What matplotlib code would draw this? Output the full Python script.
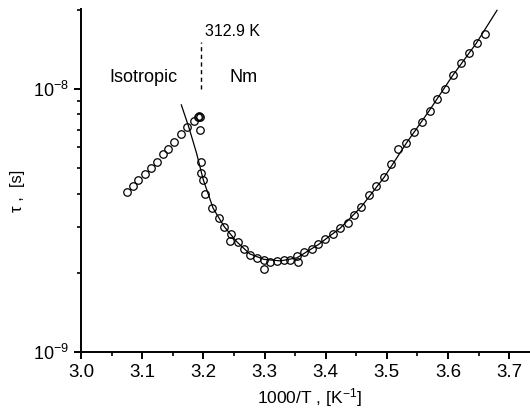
import numpy as np
import matplotlib
matplotlib.use("Agg")
import matplotlib.pyplot as plt
from matplotlib.ticker import LogLocator, MultipleLocator, NullFormatter

plt.rcParams['font.family'] = ['Liberation Sans', 'DejaVu Sans']
plt.rcParams['mathtext.fontset'] = 'custom'
plt.rcParams['mathtext.rm'] = 'Liberation Sans'
plt.rcParams['mathtext.it'] = 'Liberation Sans:italic'
plt.rcParams['axes.unicode_minus'] = False

# isotropic phase points
x_iso = [3.075, 3.085, 3.094, 3.104, 3.114, 3.124, 3.134, 3.143, 3.152, 3.164,
         3.174, 3.184, 3.191, 3.193, 3.194]
tau_iso = [4.07e-9, 4.29e-9, 4.51e-9, 4.75e-9, 5.02e-9, 5.29e-9, 5.65e-9, 5.91e-9,
           6.30e-9, 6.74e-9, 7.17e-9, 7.56e-9, 7.80e-9, 7.90e-9, 7.85e-9]

# nematic phase points
x_nm = [3.195, 3.196, 3.197, 3.199, 3.203, 3.214, 3.225, 3.234, 3.245, 3.244,
        3.256, 3.267, 3.276, 3.288, 3.299, 3.299, 3.309, 3.320, 3.332, 3.342,
        3.354, 3.353, 3.365, 3.377, 3.388, 3.399, 3.412, 3.424, 3.436, 3.447,
        3.458, 3.471, 3.483, 3.496, 3.507, 3.519, 3.532, 3.544, 3.557, 3.570,
        3.582, 3.595, 3.608, 3.621, 3.635, 3.647, 3.661]
tau_nm = [6.98e-9, 5.29e-9, 4.78e-9, 4.51e-9, 3.99e-9, 3.53e-9, 3.24e-9, 3.00e-9,
          2.81e-9, 2.65e-9, 2.62e-9, 2.47e-9, 2.34e-9, 2.28e-9, 2.24e-9, 2.07e-9,
          2.20e-9, 2.22e-9, 2.24e-9, 2.24e-9, 2.19e-9, 2.32e-9, 2.39e-9, 2.46e-9,
          2.57e-9, 2.68e-9, 2.82e-9, 2.96e-9, 3.09e-9, 3.32e-9, 3.57e-9, 3.95e-9,
          4.28e-9, 4.62e-9, 5.17e-9, 5.93e-9, 6.22e-9, 6.88e-9, 7.51e-9, 8.25e-9,
          9.14e-9, 1.00e-8, 1.13e-8, 1.26e-8, 1.37e-8, 1.49e-8, 1.62e-8]

# fitted curve
x_fit = [3.164, 3.176, 3.189, 3.200, 3.216, 3.234, 3.255, 3.276, 3.299, 3.326,
         3.353, 3.388, 3.424, 3.458, 3.496, 3.532, 3.569, 3.607, 3.646, 3.680]
tau_fit = [8.70e-9, 7.19e-9, 5.69e-9, 4.51e-9, 3.52e-9, 3.00e-9, 2.62e-9, 2.36e-9,
           2.25e-9, 2.22e-9, 2.28e-9, 2.56e-9, 2.96e-9, 3.56e-9, 4.63e-9, 6.23e-9,
           8.25e-9, 1.12e-8, 1.49e-8, 1.99e-8]

x_tr = 1000 / 312.9

fig = plt.figure(figsize=(5.3, 4.17), dpi=100)
ax = fig.add_axes([0.1528, 0.1559, 0.8472, 0.8225])

ax.plot(x_fit, tau_fit, color='black', lw=0.9)
ax.plot(x_iso, tau_iso, 'o', mfc='none', mec='black', ms=5.4, mew=0.9)
ax.plot(x_nm, tau_nm, 'o', mfc='none', mec='black', ms=5.4, mew=0.9)
ax.plot([x_tr, x_tr], [1.0e-8, 1.51e-8], color='black', lw=1.0, ls=(0, (3, 2.5)))

ax.text(3.203, 1.647e-8, '312.9 K', fontsize=11.5, va='center', ha='left')
ax.text(3.046, 1.11e-8, 'Isotropic', fontsize=13, va='center', ha='left')
ax.text(3.242, 1.11e-8, 'Nm', fontsize=13, va='center', ha='left')

ax.set_yscale('log')
ax.set_xlim(3.0, 3.734)
ax.set_ylim(1e-9, 2.014e-8)
ax.xaxis.set_major_locator(MultipleLocator(0.1))
ax.xaxis.set_minor_locator(MultipleLocator(0.05))
ax.yaxis.set_major_locator(LogLocator(base=10))
ax.yaxis.set_minor_locator(LogLocator(base=10, subs=np.arange(2, 10)))
ax.yaxis.set_minor_formatter(NullFormatter())
ax.xaxis.set_major_formatter(plt.FuncFormatter(lambda v, p: '%.1f' % v))

for s in ['top', 'right']:
    ax.spines[s].set_visible(False)
for s in ['left', 'bottom']:
    ax.spines[s].set_linewidth(1.4)
ax.tick_params(which='major', direction='out', length=5, width=1.4)
ax.tick_params(axis='x', which='major', labelsize=13.5)
ax.tick_params(axis='y', which='major', labelsize=13)
ax.tick_params(which='minor', direction='out', length=3, width=1.2)

ax.set_xlabel('1000/T , [K$^{-1}$]', fontsize=12.5)
ax.set_ylabel('τ ,  [s]', fontsize=12)
ax.xaxis.set_label_coords(0.51, -0.098)
ax.yaxis.set_label_coords(-0.125, 0.47)

fig.savefig('out.png', dpi=100)
